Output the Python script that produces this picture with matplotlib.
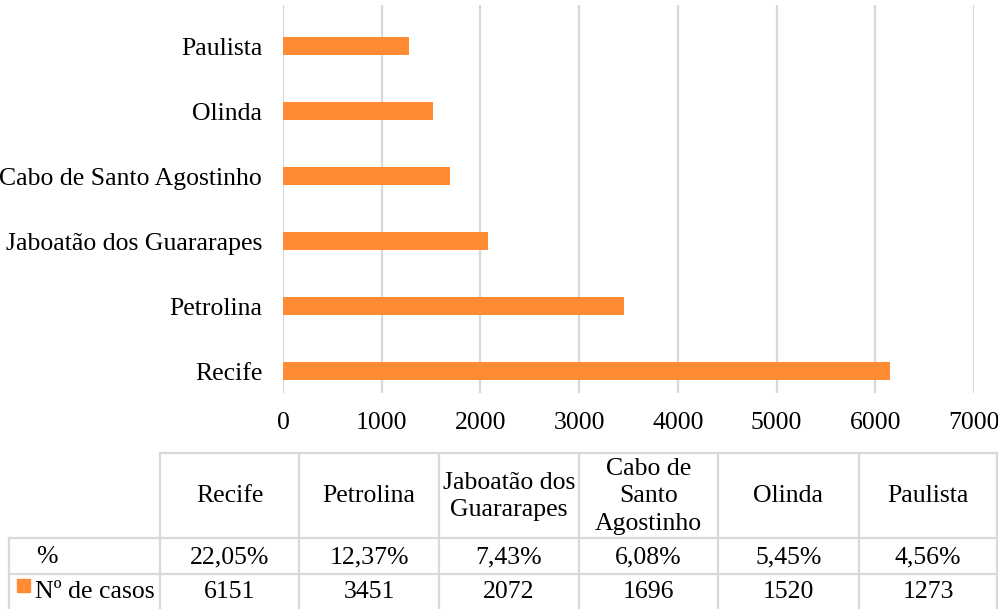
import matplotlib.pyplot as plt
from matplotlib.lines import Line2D
from matplotlib.patches import Rectangle

plt.rcParams["font.family"] = ["Liberation Serif", "DejaVu Serif"]

# ── Data ──────────────────────────────────────────────────────
cities = ["Recife", "Petrolina", "Jaboatão dos Guararapes",
          "Cabo de Santo Agostinho", "Olinda", "Paulista"]
table_headers = ["Recife", "Petrolina", "Jaboatão dos\nGuararapes",
                 "Cabo de\nSanto\nAgostinho", "Olinda", "Paulista"]
cases = [6151, 3451, 2072, 1696, 1520, 1273]
percent = [22.05, 12.37, 7.43, 6.08, 5.45, 4.56]

ORANGE = "#FF8B34"
GRID = "#D9D9D9"
FS = 18.5
W, H = 998, 609

fig = plt.figure(figsize=(W / 100, H / 100), dpi=100)

# ── Bar chart ─────────────────────────────────────────────────
ax = fig.add_axes([283 / W, 1 - 393 / H, (974 - 283) / W, (393 - 5) / H])
ypos = list(range(len(cities)))
ax.barh(ypos, cases, height=0.28, color=ORANGE, zorder=3)
ax.set_xlim(0, 7000)
ax.set_ylim(-0.338, 5.631)
ax.set_xticks(range(0, 7001, 1000))
ax.set_yticks(ypos)
ax.set_yticklabels(cities)
ax.tick_params(axis="both", length=0, labelsize=FS)
ax.tick_params(axis="y", pad=15)
ax.tick_params(axis="x", pad=14)
ax.grid(axis="x", color=GRID, linewidth=1.6, zorder=0)
for s in ax.spines.values():
    s.set_visible(False)


# ── Data table (drawn in pixel coordinates) ──────────────────
def px(x, y):
    return x / W, 1 - y / H


def seg(x0, y0, x1, y1):
    (a, b), (c, d) = px(x0, y0), px(x1, y1)
    fig.add_artist(Line2D([a, c], [b, d], color=GRID, linewidth=1.6,
                          transform=fig.transFigure))


col_x = [160, 299, 439, 579, 718, 859, 997]
row_y = [453, 538, 574, 609]

seg(col_x[0], row_y[0], col_x[-1], row_y[0])
seg(9, row_y[1], col_x[-1], row_y[1])
seg(9, row_y[2], col_x[-1], row_y[2])
seg(9, row_y[1], 9, 609)
for x in col_x:
    seg(x, row_y[0], x, 609)

for i in range(len(cities)):
    cx = (col_x[i] + col_x[i + 1]) / 2
    fig.text(*px(cx, (row_y[0] + row_y[1]) / 2 + 1), table_headers[i],
             ha="center", va="center", fontsize=FS, linespacing=1.3)
    fig.text(*px(cx, (row_y[1] + row_y[2]) / 2 + 1),
             f"{percent[i]:.2f}%".replace(".", ","),
             ha="center", va="center", fontsize=FS)
    fig.text(*px(cx, (row_y[2] + row_y[3]) / 2 + 1), str(cases[i]),
             ha="center", va="center", fontsize=FS)

fig.text(*px(47, (row_y[1] + row_y[2]) / 2 + 1), "%",
         ha="center", va="center", fontsize=FS)
kx, ky = px(17, 592)
fig.add_artist(Rectangle((kx, ky), 13 / W, 13 / H, color=ORANGE,
                         transform=fig.transFigure))
fig.text(*px(35, (row_y[2] + row_y[3]) / 2 + 1), "Nº de casos",
         ha="left", va="center", fontsize=FS)

fig.savefig("out.png", dpi=100)
